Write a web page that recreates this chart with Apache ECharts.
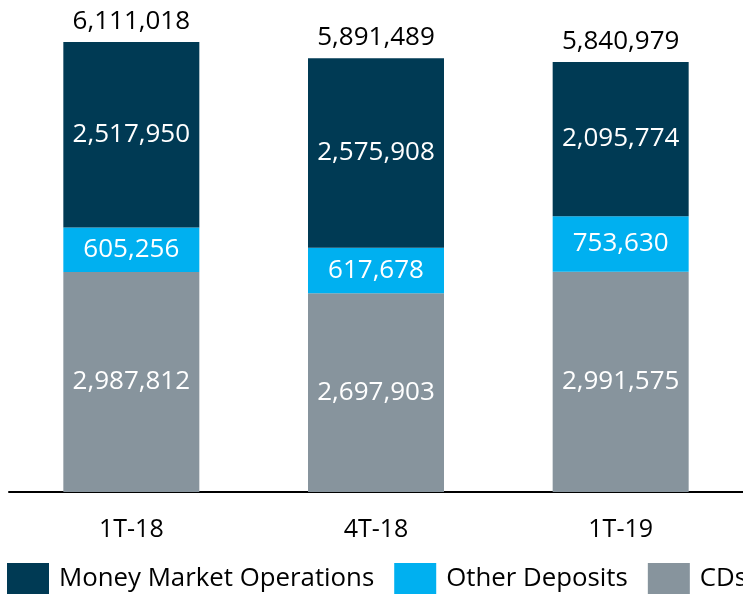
<!DOCTYPE html>
<html><head><meta charset="utf-8">
<script src="https://cdn.jsdelivr.net/npm/echarts@6/dist/echarts.min.js"></script>
<style>html,body{margin:0;padding:0;background:#fff}#c{width:743px;height:601px}</style>
</head><body><div id="c"></div>
<script>
const categories = ['1T-18', '4T-18', '1T-19'];
const cds = [2987812, 2697903, 2991575];
const otherDeposits = [605256, 617678, 753630];
const moneyMarket = [2517950, 2575908, 2095774];
const totals = [6111018, 5891489, 5840979];

const FONT = 'Open Sans';
const fmt = v => v.toLocaleString('en-US');
const inLabel = {show: true, position: 'inside', color: '#fff', fontSize: 26, fontFamily: FONT,
  formatter: p => fmt(p.value)};

const chart = echarts.init(document.getElementById('c'));
chart.setOption({
  animation: false,
  grid: {left: 9, right: -4, top: 42, bottom: 109},
  legend: {
    left: 7, top: 563, width: 1200, padding: 0, itemWidth: 42, itemHeight: 31, itemGap: 20,
    icon: 'rect',
    textStyle: {fontSize: 25.8, fontFamily: FONT, color: '#000', padding: [0, 0, 0, 5]},
    data: ['Money Market Operations', 'Other Deposits', 'CDs']
  },
  xAxis: {
    type: 'category', data: categories,
    axisLine: {lineStyle: {color: '#000', width: 2}},
    axisTick: {show: false},
    axisLabel: {color: '#000', fontSize: 25, fontFamily: FONT, margin: 25}
  },
  yAxis: {type: 'value', min: 0, max: 'dataMax', show: false, splitLine: {show: false}},
  series: [
    {name: 'CDs', type: 'bar', stack: 't', barWidth: 136, data: cds,
     itemStyle: {color: '#87949D'}, label: inLabel},
    {name: 'Other Deposits', type: 'bar', stack: 't', data: otherDeposits,
     itemStyle: {color: '#00B0F0'}, label: inLabel},
    {name: 'Money Market Operations', type: 'bar', stack: 't', data: moneyMarket,
     itemStyle: {color: '#003A54'}, label: inLabel},
    {name: 'Total', type: 'line', data: totals, symbol: 'circle', symbolSize: 1, showSymbol: true,
     silent: true, clip: false,
     itemStyle: {color: 'rgba(0,0,0,0)'}, lineStyle: {color: 'rgba(0,0,0,0)'},
     label: {show: true, position: 'top', distance: 7, color: '#000', fontSize: 26, fontFamily: FONT,
       formatter: p => fmt(p.value)}}
  ]
});
</script></body></html>
